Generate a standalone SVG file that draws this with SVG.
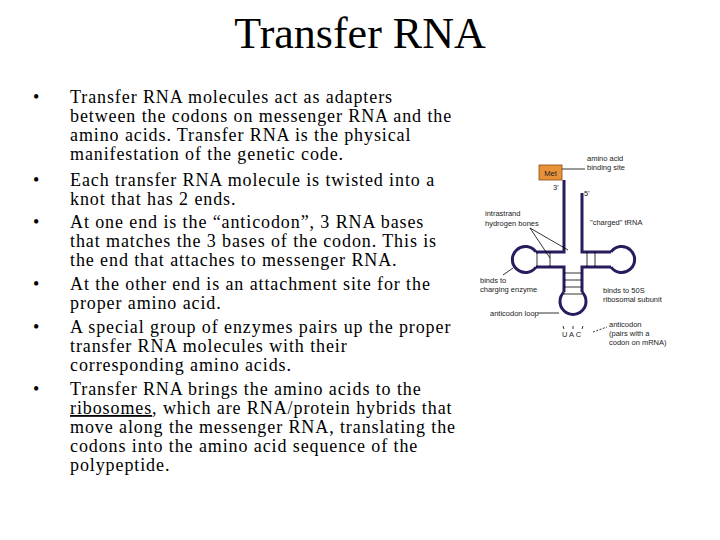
<svg xmlns="http://www.w3.org/2000/svg" width="720" height="540" viewBox="0 0 720 540">
<style>
.t{font-family:"Liberation Serif",serif;font-size:18px;fill:#000;letter-spacing:0.9px}
.s{font-family:"Liberation Sans",sans-serif;font-size:7.5px;fill:#222}
.r{stroke:#2a1a5e;stroke-width:3;fill:none}
.n{stroke:#000;stroke-width:0.8;fill:none}
</style>
<rect width="720" height="540" fill="#fff"/>
<text x="360" y="48" text-anchor="middle" font-family="Liberation Serif, serif" font-size="44">Transfer RNA</text>
<g id="bullets" class="t">
<text x="33" y="103">•</text><text x="33" y="186">•</text><text x="33" y="228">•</text><text x="33" y="290">•</text><text x="33" y="333">•</text><text x="33" y="395">•</text>
<text x="70" y="103">Transfer RNA molecules act as adapters</text>
<text x="70" y="122">between the codons on messenger RNA and the</text>
<text x="70" y="141">amino acids.  Transfer RNA is the physical</text>
<text x="70" y="160">manifestation of the genetic code.</text>
<text x="70" y="186">Each transfer RNA molecule is twisted into a</text>
<text x="70" y="205">knot that has 2 ends.</text>
<text x="70" y="228">At one end is the “anticodon”, 3 RNA bases</text>
<text x="70" y="247">that matches the 3 bases of the codon.  This is</text>
<text x="70" y="266">the end that attaches to messenger RNA.</text>
<text x="70" y="290">At the other end is an attachment site for the</text>
<text x="70" y="309">proper amino acid.</text>
<text x="70" y="333">A special group of enzymes pairs up the proper</text>
<text x="70" y="352">transfer RNA molecules with their</text>
<text x="70" y="371">corresponding amino acids.</text>
<text x="70" y="395">Transfer RNA brings the amino acids to the</text>
<text x="70" y="414"><tspan text-decoration="underline">ribosomes</tspan>, which are RNA/protein hybrids that</text>
<text x="70" y="433">move along the messenger RNA, translating the</text>
<text x="70" y="452">codons into the amino acid sequence of the</text>
<text x="70" y="471">polypeptide.</text>
</g>
<g id="trna">
<path class="r" d="M564 180 V252 H536 M536 267 H564 V292 M582 292 V267 H611 M611 252 H582 V193"/>
<path class="r" d="M536 252 A13 13 0 1 0 536 267"/>
<path class="r" d="M611 252 A13 13 0 1 1 611 267"/>
<path class="r" d="M564 292 A13 13 0 1 0 582 292"/>
<path class="n" d="M537 252V267M550 252V267M587 252V267M595 252V267M564 273H582M564 280H582M564 287H582M564 294H582"/>
<path class="n" d="M563 326l1 3M573 326v3M583 326l-1 3"/>
</g>
<g id="met"><rect x="539" y="165" width="23" height="15" fill="#e8913a" stroke="#8a4a10" stroke-width="0.8"/><text class="s" x="550.5" y="175.5" text-anchor="middle">Met</text></g>
<g id="labels" class="s">
<text x="587" y="161">amino acid</text><text x="587" y="170">binding site</text>
<text x="553" y="190">3'</text><text x="584" y="196">5'</text>
<text x="485" y="216">intrastrand</text><text x="485" y="226">hydrogen bones</text>
<text x="590" y="225">"charged" tRNA</text>
<text x="480" y="283">binds to</text><text x="480" y="292">charging enzyme</text>
<text x="603" y="293">binds to 50S</text><text x="603" y="302">ribosomal subunit</text>
<text x="490" y="316">anticodon loop</text>
<text x="562" y="337">U A C</text>
<text x="609" y="327">anticodon</text><text x="609" y="336">(pairs with a</text><text x="609" y="345">codon on mRNA)</text>
</g>
<g id="connectors" class="n">
<path d="M562 169H585"/>
<path d="M530 228L550 258M530 228L568 250"/>
<path d="M513 268L503 275"/>
<path d="M538 313H559"/>
<path d="M593 332L607 327" stroke-dasharray="2 1.5"/>
</g>
</svg>
